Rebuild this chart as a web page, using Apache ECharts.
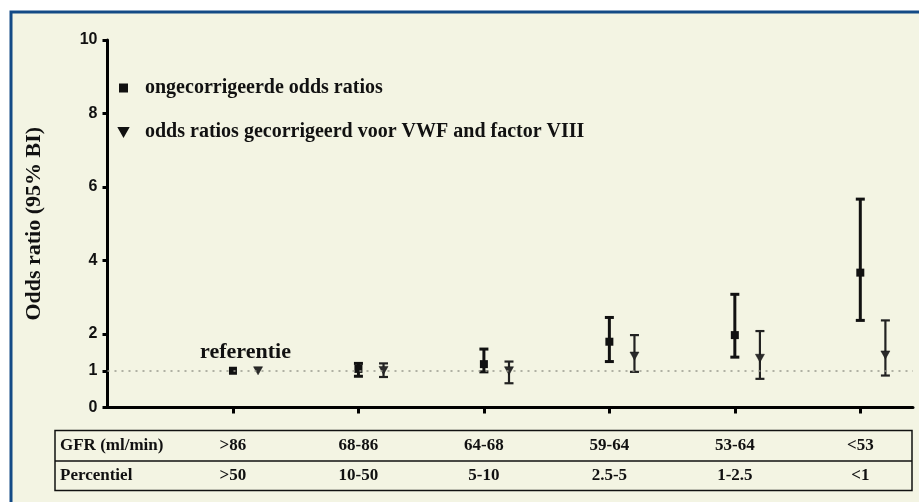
<!DOCTYPE html>
<html>
<head>
<meta charset="utf-8">
<script src="https://cdn.jsdelivr.net/npm/echarts@6/dist/echarts.min.js"></script>
<style>
html,body{margin:0;padding:0;background:#ffffff;}
#chart{width:919px;height:502px;}
</style>
</head>
<body>
<div id="chart"></div>
<script>
// ---- data ----
var gfrLabels = ['>86', '68-86', '64-68', '59-64', '53-64', '<53'];
var percentielLabels = ['>50', '10-50', '5-10', '2.5-5', '1-2.5', '<1'];
var crudeOR = [1.00, 1.05, 1.18, 1.79, 1.97, 3.67];
var crudeLow = [null, 0.85, 0.97, 1.25, 1.37, 2.37];
var crudeHigh = [null, 1.20, 1.59, 2.45, 3.08, 5.67];
var adjOR = [1.00, 1.01, 1.00, 1.40, 1.34, 1.43];
var adjLow = [null, 0.83, 0.66, 0.97, 0.78, 0.87];
var adjHigh = [null, 1.20, 1.25, 1.97, 2.08, 2.37];
var yTickValues = [0, 1, 2, 4, 6, 8, 10];
var catPositions = [1, 2, 3, 4, 5, 6];

var SERIF = "'Liberation Serif','Times New Roman',serif";
var SANS = "'Liberation Sans',Arial,sans-serif";
var ADJ_SHIFT = 0.2;
var triPath = 'path://M0,0L10,0L5,9Z';

function pts(vals, shift) {
  return vals.map(function (v, i) { return [catPositions[i] + shift, v]; });
}
function bars(lo, hi, shift) {
  var out = [];
  lo.forEach(function (l, i) {
    if (l != null && hi[i] != null) out.push([catPositions[i] + shift, l, hi[i]]);
  });
  return out;
}
function errorRender(lineW, color) {
  return function (params, api) {
    var x = api.value(0);
    var top = api.coord([x, api.value(2)]);
    var bot = api.coord([x, api.value(1)]);
    var hw = 4.5;
    var st = { stroke: color, lineWidth: lineW };
    return {
      type: 'group',
      children: [
        { type: 'line', shape: { x1: top[0], y1: top[1], x2: bot[0], y2: bot[1] }, style: st },
        { type: 'line', shape: { x1: top[0] - hw, y1: top[1], x2: top[0] + hw, y2: top[1] }, style: st },
        { type: 'line', shape: { x1: bot[0] - hw, y1: bot[1], x2: bot[0] + hw, y2: bot[1] }, style: st }
      ]
    };
  };
}

function catAxis(labels, offset, show) {
  return {
    type: 'value', min: 0, max: 6.42, position: 'bottom', offset: offset,
    axisLine: { show: show, onZero: false, lineStyle: { color: '#000', width: 3 } },
    axisTick: show ? { show: true, customValues: catPositions, length: 6, lineStyle: { color: '#000', width: 3 } } : { show: false },
    splitLine: { show: false },
    axisLabel: labels ? {
      show: true, customValues: catPositions, margin: 8,
      formatter: function (v) { return labels[Math.round(v) - 1] || ''; },
      fontFamily: SERIF, fontWeight: 'bold', fontSize: 17, color: '#111'
    } : { show: false }
  };
}

var chart = echarts.init(document.getElementById('chart'), null, { renderer: 'canvas' });
var option = {
  animation: false,
  backgroundColor: '#ffffff',
  graphic: [
    { type: 'rect', z: -10, shape: { x: 11, y: 12, width: 920, height: 500 },
      style: { fill: '#f3f4e3', stroke: '#134a86', lineWidth: 3 } },
    { type: 'rect', z: 5, shape: { x: 55, y: 430.5, width: 857, height: 60 },
      style: { fill: 'none', stroke: '#111', lineWidth: 1.5 } },
    { type: 'line', z: 5, shape: { x1: 55, y1: 461, x2: 912, y2: 461 },
      style: { stroke: '#111', lineWidth: 1.5 } },
    { type: 'text', z: 5, style: { x: 60, y: 446, text: 'GFR (ml/min)', verticalAlign: 'middle',
      font: 'bold 17px ' + SERIF, fill: '#111' } },
    { type: 'text', z: 5, style: { x: 60, y: 476, text: 'Percentiel', verticalAlign: 'middle',
      font: 'bold 17px ' + SERIF, fill: '#111' } }
  ],
  grid: { left: 107.5, top: 40, right: 6, bottom: 94.5, containLabel: false },
  legend: {
    orient: 'vertical', left: 113, top: 73, itemGap: 24, itemWidth: 9, itemHeight: 9,
    data: [
      { name: 'ongecorrigeerde odds ratios', icon: 'rect' },
      { name: 'odds ratios gecorrigeerd voor VWF and factor VIII', icon: triPath }
    ],
    textStyle: { fontFamily: SERIF, fontWeight: 'bold', fontSize: 20, color: '#111', lineHeight: 20, padding: [0, 0, 0, 12] },
    itemStyle: { color: '#111', opacity: 1 }
  },
  xAxis: [
    catAxis(null, 0, true),
    catAxis(gfrLabels, 22, false),
    catAxis(percentielLabels, 52, false)
  ],
  yAxis: {
    type: 'value', min: 0, max: 10,
    name: 'Odds ratio (95% BI)', nameLocation: 'middle', nameGap: 62,
    nameTextStyle: { fontFamily: SERIF, fontWeight: 'bold', fontSize: 22, color: '#111' },
    axisLine: { show: true, lineStyle: { color: '#000', width: 3 } },
    axisTick: { show: true, customValues: yTickValues, length: 5, lineStyle: { color: '#000', width: 3 } },
    axisLabel: { customValues: yTickValues, margin: 10, fontFamily: SANS, fontWeight: 'bold', fontSize: 16, color: '#111' },
    splitLine: { show: false }
  },
  series: [
    {
      name: 'ongecorrigeerde odds ratios', type: 'scatter', symbol: 'rect', symbolSize: 8,
      itemStyle: { color: '#111', opacity: 1 }, z: 4,
      data: pts(crudeOR, 0),
      markLine: {
        silent: true, symbol: ['none', 'none'], label: { show: false },
        lineStyle: { color: '#9a9a90', type: [2, 5], width: 1.5 },
        data: [{ yAxis: 1 }]
      }
    },
    {
      name: 'odds ratios gecorrigeerd voor VWF and factor VIII', type: 'scatter', symbol: triPath, symbolSize: [9, 8],
      itemStyle: { color: '#2a2a2a', borderColor: '#111', borderWidth: 0.5, opacity: 1 }, z: 4,
      data: pts(adjOR, ADJ_SHIFT)
    },
    {
      name: 'crudeCI', type: 'custom', z: 3, renderItem: errorRender(3, '#111'),
      encode: { x: 0, y: [1, 2] }, data: bars(crudeLow, crudeHigh, 0)
    },
    {
      name: 'adjCI', type: 'custom', z: 3, renderItem: errorRender(2.2, '#222'),
      encode: { x: 0, y: [1, 2] }, data: bars(adjLow, adjHigh, ADJ_SHIFT)
    },
    {
      name: 'refLabel', type: 'scatter', symbolSize: 0, silent: true,
      itemStyle: { opacity: 1 },
      data: [[catPositions[0] + ADJ_SHIFT / 2, crudeOR[0]]],
      label: { show: true, position: 'top', distance: 7, formatter: 'referentie',
        fontFamily: SERIF, fontWeight: 'bold', fontSize: 22, color: '#111' }
    }
  ]
};
chart.setOption(option);
</script>
</body>
</html>
